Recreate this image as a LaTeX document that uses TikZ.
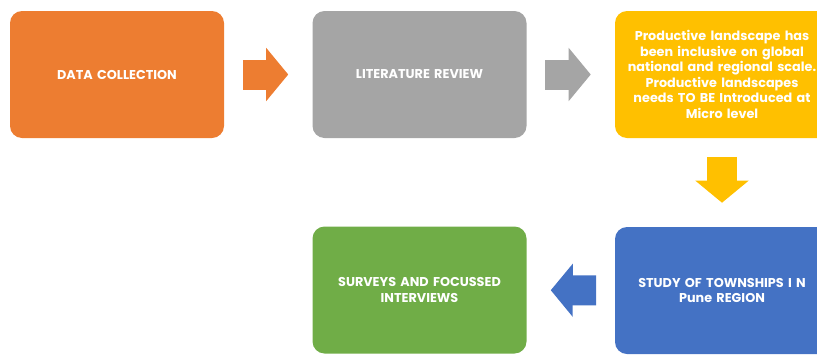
\documentclass[tikz,border=0pt]{standalone}
\usepackage{fontspec}
\setsansfont{Poppins}
\usepackage{tikz}
\usetikzlibrary{arrows.meta}
\definecolor{steporange}{HTML}{ED7D31}
\definecolor{stepgray}{HTML}{A5A5A5}
\definecolor{stepyellow}{HTML}{FFC000}
\definecolor{stepblue}{HTML}{4472C4}
\definecolor{stepgreen}{HTML}{70AD47}

\begin{document}
\begin{tikzpicture}[
    x=0.75pt, y=-0.75pt,
    stage/.style={rounded corners=9pt, minimum width=160.5pt, minimum height=95.25pt, text width=150pt,
      align=center, text=white, font=\sffamily\bfseries\fontsize{9.6}{11.6}\selectfont},
    flow/.style={line width=22.5pt, -{Triangle[length=16.5pt, width=39pt]}, shorten <=14pt, shorten >=18pt}
]
\useasboundingbox (0,0) rectangle (817,354);

\node[stage, fill=steporange] (dc) at (117,74.5) {DATA COLLECTION};
\node[stage, fill=stepgray] (lr) at (419.5,74.5) {LITERATURE REVIEW};
\node[stage, fill=stepyellow] (pl) at (722,74.5) {Productive landscape has\\been inclusive on global\\national and regional scale.\\Productive landscapes\\needs TO BE Introduced at\\Micro level};
\node[stage, fill=stepblue] (st) at (722,290.5) {STUDY OF TOWNSHIPS I N\\Pune REGION};
\node[stage, fill=stepgreen] (sv) at (419.5,290) {SURVEYS AND FOCUSSED\\INTERVIEWS};

\draw[flow, steporange] (dc) -- (lr);
\draw[flow, stepgray] (lr) -- (pl);
\draw[flow, stepyellow] (pl) -- (st);
\draw[flow, stepblue] (st) -- (sv);

\end{tikzpicture}
\end{document}
